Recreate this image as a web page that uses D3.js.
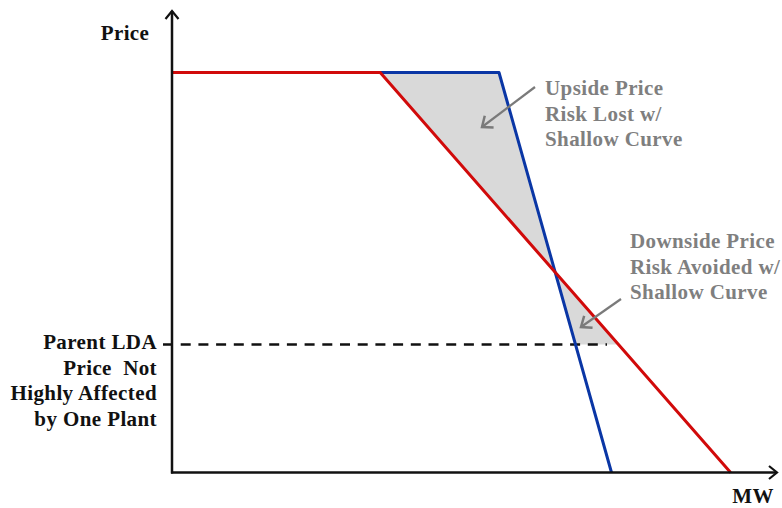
<!DOCTYPE html>
<html>
<head>
<meta charset="utf-8">
<script src="https://cdn.jsdelivr.net/npm/d3@7"></script>
<style>
  body { margin: 0; background: #fff; }
  text { font-family: "Liberation Serif", "Times New Roman", serif; font-weight: bold; letter-spacing: 0.4px; }
</style>
</head>
<body>
<div id="chart"></div>
<script>
// data (MW and price in relative units, 0-100)
const redMW = [0, 34.7, 93.1]
const redPrice = [100, 100, 0]
const blueMW = [34.7, 54.5, 73.25]
const bluePrice = [100, 100, 0]
const parentPrice = 32
const dashEndMW = 72.5

const yLabel = 'Price'
const xLabel = 'MW'
const parentLabel = ['Parent LDA', 'Price  Not', 'Highly Affected', 'by One Plant']
const upsideLabel = ['Upside Price', 'Risk Lost w/', 'Shallow Curve']
const downsideLabel = ['Downside Price', 'Risk Avoided w/', 'Shallow Curve']

const width = 782
const height = 508

const x = d3.scaleLinear().domain([0, 100]).range([172, 772])
const y = d3.scaleLinear().domain([0, 100]).range([472.5, 72.5])

const svg = d3.select('#chart').append('svg')
  .attr('width', width)
  .attr('height', height)

const defs = svg.append('defs')
function marker (id, color, size) {
  defs.append('marker')
    .attr('id', id)
    .attr('viewBox', '-12 -8 14 16')
    .attr('refX', 0)
    .attr('refY', 0)
    .attr('markerUnits', 'userSpaceOnUse')
    .attr('markerWidth', size)
    .attr('markerHeight', size)
    .attr('orient', 'auto')
    .append('path')
    .attr('d', 'M-8,-6.5L0,0L-8,6.5')
    .attr('fill', 'none')
    .attr('stroke', color)
    .attr('stroke-width', 2.2)
}
marker('axisArrow', '#111', 16)
marker('grayArrow', '#7a7a7a', 18)

// mw on a sloped segment at a given price
function mwAt (mws, prices, p) {
  const t = (prices[1] - p) / (prices[1] - prices[2])
  return mws[1] + (mws[2] - mws[1]) * t
}
// crossing of the two sloped segments
const t = (blueMW[1] - redMW[1]) / ((redMW[2] - redMW[1]) - (blueMW[2] - blueMW[1]))
const crossPrice = redPrice[1] - t * (redPrice[1] - redPrice[2])
const crossMW = mwAt(redMW, redPrice, crossPrice)

const upperArea = [
  [redMW[1], redPrice[1]],
  [blueMW[1], bluePrice[1]],
  [crossMW, crossPrice]
]
const lowerArea = [
  [crossMW, crossPrice],
  [mwAt(blueMW, bluePrice, parentPrice), parentPrice],
  [mwAt(redMW, redPrice, parentPrice), parentPrice]
]

const line = d3.line().x(d => x(d[0])).y(d => y(d[1]))

svg.selectAll('.area')
  .data([upperArea, lowerArea])
  .enter().append('path')
  .attr('class', 'area')
  .attr('d', d => line(d) + 'Z')
  .attr('fill', '#d9d9d9')

// parent LDA dashed line
svg.append('line')
  .attr('x1', x(0) - 9)
  .attr('x2', x(dashEndMW))
  .attr('y1', y(parentPrice))
  .attr('y2', y(parentPrice))
  .attr('stroke', '#111')
  .attr('stroke-width', 2.6)
  .attr('stroke-dasharray', '10,7.7')

// curves
const bluePts = blueMW.map((m, i) => [m, bluePrice[i]])
const redPts = redMW.map((m, i) => [m, redPrice[i]])

svg.append('path')
  .attr('d', line(bluePts))
  .attr('fill', 'none')
  .attr('stroke', '#0a36a5')
  .attr('stroke-width', 3)
  .attr('stroke-linejoin', 'round')

svg.append('path')
  .attr('d', line(redPts))
  .attr('fill', 'none')
  .attr('stroke', '#d10a0a')
  .attr('stroke-width', 3)

// axes
svg.append('line')
  .attr('x1', x(0)).attr('y1', y(0) + 1)
  .attr('x2', x(0)).attr('y2', 11)
  .attr('stroke', '#111').attr('stroke-width', 2.5)
  .attr('marker-end', 'url(#axisArrow)')
svg.append('line')
  .attr('x1', x(0) - 1).attr('y1', y(0))
  .attr('x2', 777).attr('y2', y(0))
  .attr('stroke', '#111').attr('stroke-width', 2.5)
  .attr('marker-end', 'url(#axisArrow)')

svg.append('text')
  .attr('x', 125).attr('y', 40)
  .attr('text-anchor', 'middle')
  .style('font-size', '21px')
  .attr('fill', '#111')
  .text(yLabel)

svg.append('text')
  .attr('x', 753).attr('y', 503)
  .attr('text-anchor', 'middle')
  .style('font-size', '21px')
  .attr('fill', '#111')
  .text(xLabel)

function block (lines, x0, y0, anchor, color) {
  svg.append('g').selectAll('text')
    .data(lines)
    .enter().append('text')
    .attr('x', x0)
    .attr('y', (d, i) => y0 + i * 25.5)
    .attr('text-anchor', anchor)
    .attr('fill', color)
    .style('font-size', '21px')
    .style('white-space', 'pre')
    .text(d => d)
}
block(parentLabel, 157, 349, 'end', '#111')
block(upsideLabel, 545, 95, 'start', '#7f7f7f')
block(downsideLabel, 630, 248, 'start', '#7f7f7f')

// annotation arrows
svg.append('line')
  .attr('x1', 535).attr('y1', 87)
  .attr('x2', 482).attr('y2', 127)
  .attr('stroke', '#7a7a7a').attr('stroke-width', 2.2)
  .attr('marker-end', 'url(#grayArrow)')
svg.append('line')
  .attr('x1', 621).attr('y1', 299)
  .attr('x2', 581).attr('y2', 327)
  .attr('stroke', '#7a7a7a').attr('stroke-width', 2.2)
  .attr('marker-end', 'url(#grayArrow)')
</script>
</body>
</html>
